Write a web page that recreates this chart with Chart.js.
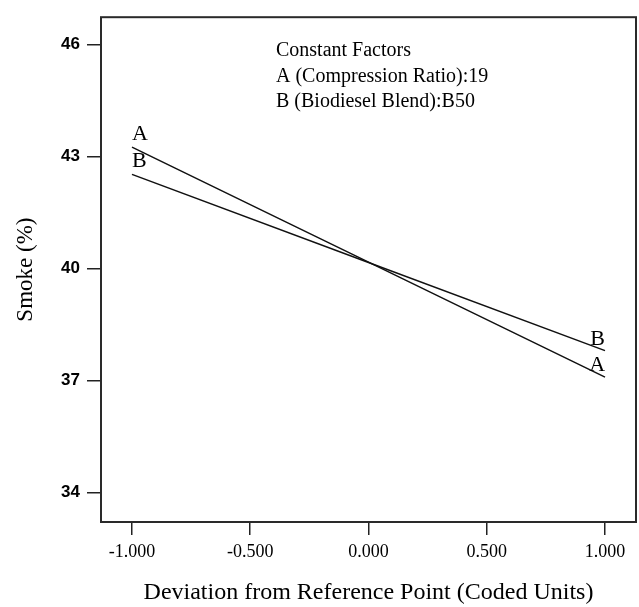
<!DOCTYPE html>
<html>
<head>
<meta charset="utf-8">
<script src="https://cdn.jsdelivr.net/npm/chart.js@4.4.1/dist/chart.umd.min.js"></script>
<style>
  html, body { margin: 0; padding: 0; background: #fff; }
  #wrap { width: 639px; height: 607px; }
</style>
</head>
<body>
<div id="wrap"><canvas id="c" width="639" height="607"></canvas></div>
<script>
// coded deviation from the reference point
var deviation = [-1, 0, 1];
// predicted smoke (%) when each factor is moved alone
var smokeA = [43.25, 40.17, 37.09];
var smokeB = [42.52, 40.16, 37.80];
var factorNames = ["A", "B"];

var xTicks = [-1, -0.5, 0, 0.5, 1];
var yTicks = [34, 37, 40, 43, 46];

var notes = ["Constant Factors", "A (Compression Ratio):19", "B (Biodiesel Blend):B50"];

var serif = '"Liberation Serif", "Times New Roman", serif';
var sans = '"Liberation Sans", Arial, sans-serif';

function points(ys){
	var out = [];
	for (var i = 0; i < deviation.length; i++){
		out.push({x: deviation[i], y: ys[i]});
	}
	return out;
}

// frame around the plot area, factor letters at the line ends, constant-factor note
var decorations = {
	id: "decorations",
	afterDatasetsDraw: function(chart){
		var ctx = chart.ctx;
		var a = chart.chartArea;
		ctx.save();
		ctx.strokeStyle = "#2a2a2a";
		ctx.lineWidth = 2;
		ctx.strokeRect(a.left, a.top, a.right - a.left, a.bottom - a.top);

		ctx.fillStyle = "#000";
		ctx.font = "22px " + serif;
		ctx.textBaseline = "alphabetic";
		chart.data.datasets.forEach(function(ds, i){
			var meta = chart.getDatasetMeta(i);
			var first = meta.data[0];
			var last = meta.data[meta.data.length - 1];
			ctx.textAlign = "left";
			ctx.fillText(factorNames[i], first.x, first.y - 7);
			ctx.textAlign = "right";
			ctx.fillText(factorNames[i], last.x, last.y - 6);
		});

		ctx.font = "20px " + serif;
		ctx.textAlign = "left";
		for (var j = 0; j < notes.length; j++){
			ctx.fillText(notes[j], 276, 56 + j * 25.5);
		}
		ctx.restore();
	}
};

new Chart(document.getElementById("c"), {
	type: "line",
	data: {
		datasets: [
			{ label: factorNames[0], data: points(smokeA) },
			{ label: factorNames[1], data: points(smokeB) }
		]
	},
	options: {
		responsive: false,
		animation: false,
		devicePixelRatio: 1,
		layout: { padding: { top: 10, right: 3, left: 0, bottom: 0 } },
		elements: {
			line: { borderColor: "#111", borderWidth: 1.5, tension: 0 },
			point: { radius: 0 }
		},
		plugins: {
			legend: { display: false },
			tooltip: { enabled: false }
		},
		scales: {
			x: {
				type: "linear",
				min: -1.131,
				max: 1.131,
				afterBuildTicks: function(scale){
					scale.ticks = xTicks.map(function(v){ return {value: v}; });
				},
				afterFit: function(scale){ scale.height = 85; },
				grid: { drawOnChartArea: false, drawTicks: true, tickLength: 13, color: "#222", lineWidth: 1.5 },
				border: { display: false },
				ticks: {
					padding: 6,
					color: "#000",
					font: { family: serif, size: 18 },
					callback: function(v){ return v.toFixed(3); }
				},
				title: {
					display: true,
					text: "Deviation from Reference Point (Coded Units)",
					color: "#000",
					font: { family: serif, size: 24 },
					padding: { top: 0, bottom: 0 }
				}
			},
			y: {
				type: "linear",
				min: 33.21,
				max: 46.73,
				afterBuildTicks: function(scale){
					scale.ticks = yTicks.map(function(v){ return {value: v}; });
				},
				afterFit: function(scale){ scale.width = 101; },
				grid: { drawOnChartArea: false, drawTicks: true, tickLength: 14, color: "#222", lineWidth: 1.5 },
				border: { display: false },
				ticks: {
					padding: 7,
					color: "#000",
					font: { family: sans, size: 17, weight: "bold" }
				},
				title: {
					display: true,
					text: "Smoke (%)",
					color: "#000",
					font: { family: serif, size: 23 },
					padding: { top: 12, bottom: 0 }
				}
			}
		}
	},
	plugins: [decorations]
});
</script>
</body>
</html>
